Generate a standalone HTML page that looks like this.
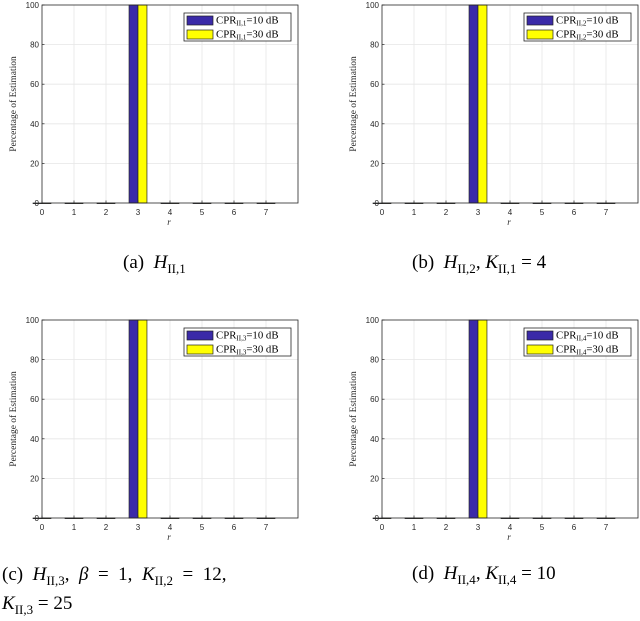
<!DOCTYPE html>
<html><head><meta charset="utf-8">
<style>
body{margin:0;background:#fff;width:640px;height:612px;overflow:hidden;font-family:"Liberation Serif",serif;}
svg{position:absolute;left:0;top:0}
.cap{position:absolute;font-family:"Liberation Serif",serif;font-size:19px;color:#000;white-space:nowrap}
</style></head><body>
<svg id="chart" width="640" height="612"></svg>
<div class="cap" style="left:123px;top:252px">(a)&nbsp; <i>H</i><sub style="font-size:13px">II,1</sub></div>
<div class="cap" style="left:412px;top:252px">(b)&nbsp; <i>H</i><sub style="font-size:13px">II,2</sub>, <i>K</i><sub style="font-size:13px">II,1</sub> = 4</div>
<div class="cap" style="left:2px;top:563px;line-height:23px">(c)&nbsp; <i>H</i><sub style="font-size:13px">II,3</sub>,&nbsp; <i>β</i>&nbsp; =&nbsp; 1,&nbsp; <i>K</i><sub style="font-size:13px">II,2</sub>&nbsp; =&nbsp; 12,<br><i>K</i><sub style="font-size:13px">II,3</sub> = 25</div>
<div class="cap" style="left:412px;top:563px">(d)&nbsp; <i>H</i><sub style="font-size:13px">II,4</sub>, <i>K</i><sub style="font-size:13px">II,4</sub> = 10</div>
<script>
const categories=[0,1,2,3,4,5,6,7];
const series10=[0,0,0,100,0,0,0,0];
const series30=[0,0,0,100,0,0,0,0];
const yTicks=[0,20,40,60,80,100];
const xTicks=[0,1,2,3,4,5,6,7];
const panelSubs=["1","2","3","4"];
const NS="http://www.w3.org/2000/svg";
const svg=document.getElementById('chart');
function mk(tag,attrs,parent){const e=document.createElementNS(NS,tag);for(const k in attrs)e.setAttribute(k,attrs[k]);(parent||svg).appendChild(e);return e;}
const panels=[{l:42,t:5},{l:382,t:5},{l:42,t:320},{l:382,t:320}];
panels.forEach((p,i)=>{
  const W=256,H=198;
  const g=mk('g',{});
  
  
  const xs=v=>p.l+v/8*W;
  const ys=v=>p.t+H-v/100*H;
  xTicks.forEach(v=>{if(v>0){const ln=mk('line',{x1:xs(v),x2:xs(v),y1:p.t,y2:p.t+H,stroke:'#e6e6e6','stroke-width':0.8},g);}});
  yTicks.forEach(v=>{if(v>0&&v<100){const ln=mk('line',{x1:p.l,x2:p.l+W,y1:ys(v),y2:ys(v),stroke:'#e6e6e6','stroke-width':0.8},g);}});
  const bw=0.28;
  categories.forEach((c,j)=>{
    const h1=series10[j],h2=series30[j];
    const b1=mk('rect',{x:xs(c-bw),y:ys(h1),width:xs(bw)-xs(0),height:Math.max(ys(0)-ys(h1),0.6),fill:'#3a2aa8',stroke:'#222','stroke-width':0.7},g);
    
    
    const b2=mk('rect',{x:xs(c),y:ys(h2),width:xs(bw)-xs(0),height:Math.max(ys(0)-ys(h2),0.6),fill:'#ffff00',stroke:'#222','stroke-width':0.7},g);
    
    
  });
  const box=mk('rect',{x:p.l,y:p.t,width:W,height:H,fill:'none',stroke:'#262626','stroke-width':0.8},g);
  
  
  xTicks.forEach(v=>{
    mk('line',{x1:xs(v),x2:xs(v),y1:p.t+H,y2:p.t+H-2.5,stroke:'#262626','stroke-width':0.7},g);
    const t=mk('text',{x:xs(v),y:p.t+H+12,'font-size':8,'text-anchor':'middle',fill:'#262626','font-family':'Liberation Sans, sans-serif'},g);
    t.textContent=v;
    
    
  });
  yTicks.forEach(v=>{
    mk('line',{x1:p.l,x2:p.l+2.5,y1:ys(v),y2:ys(v),stroke:'#262626','stroke-width':0.7},g);
    const t=mk('text',{x:p.l-3,y:ys(v)+3,'font-size':8,'text-anchor':'end',fill:'#262626','font-family':'Liberation Sans, sans-serif'},g);
    t.textContent=v;
    
    
  });
  const xl=mk('text',{x:p.l+W/2-1,y:p.t+H+22,'font-size':9,'font-style':'italic','text-anchor':'middle',fill:'#262626'},g);
  xl.textContent='r';
  
  
  const yl=mk('text',{x:0,y:0,'font-size':9.5,'text-anchor':'middle',fill:'#262626',transform:`translate(${p.l-26},${p.t+H/2}) rotate(-90)`},g);
  yl.textContent='Percentage of Estimation';
  
  
  const lg=mk('g',{},g);
  
  
  const lx=p.l+142,ly=p.t+8;
  mk('rect',{x:lx,y:ly,width:107,height:28,fill:'#fff',stroke:'#262626','stroke-width':0.8},lg);
  [['#3a2aa8','10'],['#ffff00','30']].forEach((e,k)=>{
    const ent=mk('g',{},lg);
    
    
    const cy=ly+7+k*14;
    mk('rect',{x:lx+3,y:cy-4,width:26,height:9,fill:e[0],stroke:'#222','stroke-width':0.7},ent);
    const t=mk('text',{x:lx+32,y:cy+3.5,'font-size':10.8,fill:'#000'},ent);
    t.innerHTML='CPR<tspan font-size="7" dy="2">II,'+panelSubs[i]+'</tspan><tspan dy="-2">='+e[1]+' dB</tspan>';
  });
});
</script>
</body></html>
